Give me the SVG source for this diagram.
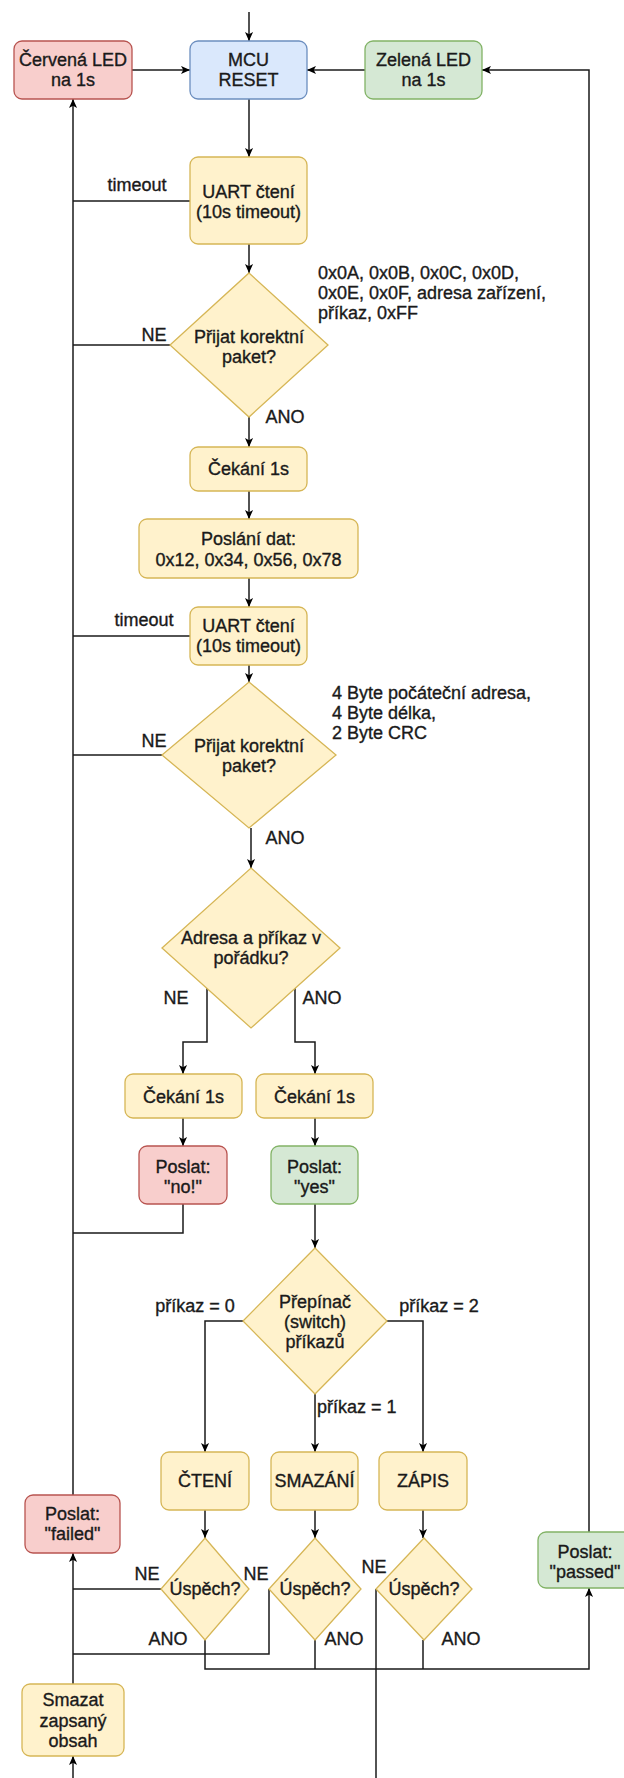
<svg xmlns="http://www.w3.org/2000/svg" width="624" height="1778" viewBox="0 0 624 1778">
  <style>
    .t { font-family: "Liberation Sans", Arial, sans-serif; font-size: 18px; fill: #1a1a1a; stroke: #1a1a1a; stroke-width: 0.35; text-anchor: middle; }
    .ts { text-anchor: start; }
    .red { fill: #f8cecc; stroke: #b85450; stroke-width: 1.3; }
    .blue { fill: #dae8fc; stroke: #6c8ebf; stroke-width: 1.3; }
    .green { fill: #d5e8d4; stroke: #82b366; stroke-width: 1.3; }
    .yel { fill: #fff2cc; stroke: #d6b656; stroke-width: 1.3; }
    .c { fill: none; stroke: #1a1a1a; stroke-width: 1.5; }
    .a { marker-end: url(#arr); }
  </style>
  <defs>
    <marker id="arr" viewBox="0 0 10 10" refX="10" refY="5" markerWidth="9" markerHeight="9" markerUnits="userSpaceOnUse" orient="auto">
      <path d="M0,0.5 L10,5 L0,9.5 L2.5,5 z" fill="#000"/>
    </marker>
  </defs>
  <rect width="624" height="1778" fill="#ffffff"/>

  <!-- connectors -->
  <g id="connectors">
    <path class="c a" d="M249,12 V41"/>
    <path class="c a" d="M132,70 H190"/>
    <path class="c a" d="M365,70 H307"/>
    <path class="c a" d="M589,1532 V70 H482"/>
    <path class="c a" d="M249,99 V157"/>
    <path class="c" d="M190,201 H73"/>
    <path class="c a" d="M73,1495 V99"/>
    <path class="c a" d="M249,244 V273"/>
    <path class="c" d="M170,345 H73"/>
    <path class="c a" d="M249,417 V447"/>
    <path class="c a" d="M249,491 V519"/>
    <path class="c a" d="M249,578 V607"/>
    <path class="c" d="M190,636 H73"/>
    <path class="c a" d="M249,665 V682"/>
    <path class="c" d="M162,755 H73"/>
    <path class="c a" d="M251,828 V868"/>
    <path class="c a" d="M207,988 V1042 H183 V1074"/>
    <path class="c a" d="M295,988 V1042 H315 V1074"/>
    <path class="c a" d="M183,1118 V1146"/>
    <path class="c a" d="M315,1118 V1146"/>
    <path class="c" d="M183,1204 V1233 H73"/>
    <path class="c a" d="M315,1204 V1248"/>
    <path class="c a" d="M243,1321 H205 V1452"/>
    <path class="c a" d="M315,1394 V1452"/>
    <path class="c a" d="M387,1321 H423 V1452"/>
    <path class="c a" d="M205,1510 V1538"/>
    <path class="c a" d="M315,1510 V1538"/>
    <path class="c a" d="M423,1510 V1538"/>
    <path class="c" d="M161,1589 H73"/>
    <path class="c" d="M269,1589 V1654 H73"/>
    <path class="c" d="M376,1589 V1778"/>
    <path class="c a" d="M205,1640 V1669 H589 V1588"/>
    <path class="c" d="M315,1640 V1669"/>
    <path class="c" d="M423,1640 V1669"/>
    <path class="c a" d="M73,1684 V1553"/>
    <path class="c a" d="M73,1778 V1756"/>

    <!-- connector labels -->
    <text class="t" x="137" y="191">timeout</text>
    <text class="t" x="154" y="341">NE</text>
    <text class="t" x="285" y="423">ANO</text>
    <text class="t" x="144" y="626">timeout</text>
    <text class="t" x="154" y="747">NE</text>
    <text class="t" x="285" y="844">ANO</text>
    <text class="t" x="176" y="1004">NE</text>
    <text class="t" x="322" y="1004">ANO</text>
    <text class="t" x="195" y="1312">příkaz = 0</text>
    <text class="t" x="439" y="1312">příkaz = 2</text>
    <text class="t ts" x="317" y="1413">příkaz = 1</text>
    <text class="t" x="147" y="1580">NE</text>
    <text class="t" x="256" y="1580">NE</text>
    <text class="t" x="374" y="1573">NE</text>
    <text class="t" x="168" y="1645">ANO</text>
    <text class="t" x="344" y="1645">ANO</text>
    <text class="t" x="461" y="1645">ANO</text>
  </g>

  <!-- packet notes -->
  <g id="note-header">
    <text class="t ts" x="318" y="279">0x0A, 0x0B, 0x0C, 0x0D,</text>
    <text class="t ts" x="318" y="299">0x0E, 0x0F, adresa zařízení,</text>
    <text class="t ts" x="318" y="319">příkaz, 0xFF</text>
  </g>
  <g id="note-data">
    <text class="t ts" x="332" y="699">4 Byte počáteční adresa,</text>
    <text class="t ts" x="332" y="719">4 Byte délka,</text>
    <text class="t ts" x="332" y="739">2 Byte CRC</text>
  </g>

  <!-- nodes -->
  <g id="led-red">
    <rect class="red" x="14" y="41" width="118" height="58" rx="8"/>
    <text class="t" x="73" y="66">Červená LED</text>
    <text class="t" x="73" y="86">na 1s</text>
  </g>
  <g id="mcu-reset">
    <rect class="blue" x="190" y="41" width="117" height="58" rx="8"/>
    <text class="t" x="248.5" y="66">MCU</text>
    <text class="t" x="248.5" y="86">RESET</text>
  </g>
  <g id="led-green">
    <rect class="green" x="365" y="41" width="117" height="58" rx="8"/>
    <text class="t" x="423.5" y="66">Zelená LED</text>
    <text class="t" x="423.5" y="86">na 1s</text>
  </g>
  <g id="uart-read-1">
    <rect class="yel" x="190" y="157" width="117" height="87" rx="8"/>
    <text class="t" x="248.5" y="198">UART čtení</text>
    <text class="t" x="248.5" y="218">(10s timeout)</text>
  </g>
  <g id="check-packet-1">
    <polygon class="yel" points="249,273 328,345 249,417 170,345"/>
    <text class="t" x="249" y="343">Přijat korektní</text>
    <text class="t" x="249" y="363">paket?</text>
  </g>
  <g id="wait-1">
    <rect class="yel" x="190" y="447" width="117" height="44" rx="8"/>
    <text class="t" x="248.5" y="475">Čekání 1s</text>
  </g>
  <g id="send-data">
    <rect class="yel" x="139" y="519" width="219" height="59" rx="8"/>
    <text class="t" x="248.5" y="545">Poslání dat:</text>
    <text class="t" x="248.5" y="566">0x12, 0x34, 0x56, 0x78</text>
  </g>
  <g id="uart-read-2">
    <rect class="yel" x="190" y="607" width="117" height="58" rx="8"/>
    <text class="t" x="248.5" y="632">UART čtení</text>
    <text class="t" x="248.5" y="652">(10s timeout)</text>
  </g>
  <g id="check-packet-2">
    <polygon class="yel" points="249,682 336,755 249,828 162,755"/>
    <text class="t" x="249" y="752">Přijat korektní</text>
    <text class="t" x="249" y="772">paket?</text>
  </g>
  <g id="check-address">
    <polygon class="yel" points="251,868 340,948 251,1028 162,948"/>
    <text class="t" x="251" y="944">Adresa a příkaz v</text>
    <text class="t" x="251" y="964">pořádku?</text>
  </g>
  <g id="wait-no">
    <rect class="yel" x="125" y="1074" width="117" height="44" rx="8"/>
    <text class="t" x="183.5" y="1103">Čekání 1s</text>
  </g>
  <g id="wait-yes">
    <rect class="yel" x="256" y="1074" width="117" height="44" rx="8"/>
    <text class="t" x="314.5" y="1103">Čekání 1s</text>
  </g>
  <g id="send-no">
    <rect class="red" x="139" y="1146" width="88" height="58" rx="8"/>
    <text class="t" x="183" y="1173">Poslat:</text>
    <text class="t" x="183" y="1193">"no!"</text>
  </g>
  <g id="send-yes">
    <rect class="green" x="271" y="1146" width="87" height="58" rx="8"/>
    <text class="t" x="314.5" y="1173">Poslat:</text>
    <text class="t" x="314.5" y="1193">"yes"</text>
  </g>
  <g id="command-switch">
    <polygon class="yel" points="315,1248 387,1321 315,1394 243,1321"/>
    <text class="t" x="315" y="1308">Přepínač</text>
    <text class="t" x="315" y="1328">(switch)</text>
    <text class="t" x="315" y="1348">příkazů</text>
  </g>
  <g id="cmd-read">
    <rect class="yel" x="161" y="1452" width="88" height="58" rx="8"/>
    <text class="t" x="205" y="1487">ČTENÍ</text>
  </g>
  <g id="cmd-erase">
    <rect class="yel" x="271" y="1452" width="87" height="58" rx="8"/>
    <text class="t" x="314.5" y="1487">SMAZÁNÍ</text>
  </g>
  <g id="cmd-write">
    <rect class="yel" x="379" y="1452" width="88" height="58" rx="8"/>
    <text class="t" x="423" y="1487">ZÁPIS</text>
  </g>
  <g id="ok-read">
    <polygon class="yel" points="205,1538 249,1589 205,1640 161,1589"/>
    <text class="t" x="205" y="1595">Úspěch?</text>
  </g>
  <g id="ok-erase">
    <polygon class="yel" points="315,1538 361,1589 315,1640 269,1589"/>
    <text class="t" x="315" y="1595">Úspěch?</text>
  </g>
  <g id="ok-write">
    <polygon class="yel" points="424,1538 472,1589 424,1640 376,1589"/>
    <text class="t" x="424" y="1595">Úspěch?</text>
  </g>
  <g id="send-failed">
    <rect class="red" x="25" y="1495" width="95" height="58" rx="8"/>
    <text class="t" x="72.5" y="1520">Poslat:</text>
    <text class="t" x="72.5" y="1540">"failed"</text>
  </g>
  <g id="send-passed">
    <rect class="green" x="538" y="1532" width="94" height="56" rx="8"/>
    <text class="t" x="585" y="1558">Poslat:</text>
    <text class="t" x="585" y="1578">"passed"</text>
  </g>
  <g id="erase-written">
    <rect class="yel" x="22" y="1684" width="102" height="72" rx="8"/>
    <text class="t" x="73" y="1706">Smazat</text>
    <text class="t" x="73" y="1727">zapsaný</text>
    <text class="t" x="73" y="1747">obsah</text>
  </g>
</svg>
